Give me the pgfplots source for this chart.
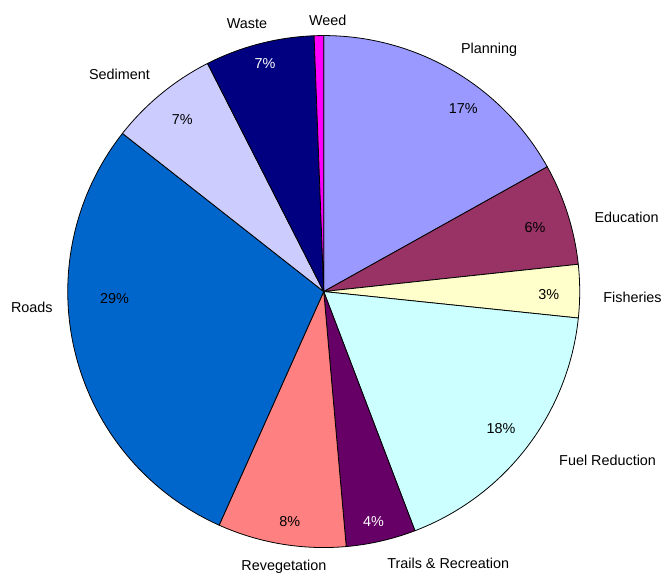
\documentclass[border=0pt]{standalone}
\usepackage{pgfplots}
\pgfplotsset{compat=1.18}
\usepackage{fontspec}
\setmainfont{Liberation Sans}
\definecolor{cPlan}{HTML}{9999FF}
\definecolor{cEdu}{HTML}{993366}
\definecolor{cFish}{HTML}{FFFFCC}
\definecolor{cFuel}{HTML}{CCFFFF}
\definecolor{cTrail}{HTML}{660066}
\definecolor{cReveg}{HTML}{FF8080}
\definecolor{cRoad}{HTML}{0066CC}
\definecolor{cSed}{HTML}{CCCCFF}
\definecolor{cWaste}{HTML}{000080}
\definecolor{cWeed}{HTML}{FF00FF}
% centre (325,283.3), radius 257 in pixel units; wedge domains in cumulative percent
\newcommand{\pieslice}[3]{%
  \addplot[fill=#1, draw=black, line width=0.8pt, domain=#2:#3, samples=80, variable=\t]
    ({325+257*sin(3.6*\t)}, {283.3+257*cos(3.6*\t)}) -- (axis cs:325,283.3) -- cycle;}
\begin{document}
\begin{tikzpicture}
\begin{axis}[
  width=665bp, height=576bp, scale only axis,
  xmin=0, xmax=665, ymin=0, ymax=576,
  hide axis, clip=false,
  font=\fontsize{14.5}{17}\selectfont,
]
\draw[draw=none] (axis cs:0,0) rectangle (axis cs:665,576);
\pieslice{cPlan}{0}{16.9}
\pieslice{cEdu}{16.9}{23.3}
\pieslice{cFish}{23.3}{26.65}
\pieslice{cFuel}{26.65}{44.2}
\pieslice{cTrail}{44.2}{48.6}
\pieslice{cReveg}{48.6}{56.7}
\pieslice{cRoad}{56.7}{85.6}
\pieslice{cSed}{85.6}{92.5}
\pieslice{cWaste}{92.5}{99.4}
\pieslice{cWeed}{99.4}{100}
% category labels
\node at (axis cs:329,556) {Weed};
\node at (axis cs:248,552) {Waste};
\node at (axis cs:120,501) {Sediment};
\node at (axis cs:491,526) {Planning};
\node at (axis cs:629,358) {Education};
\node at (axis cs:635,277) {Fisheries};
\node at (axis cs:610,114) {Fuel Reduction};
\node at (axis cs:450,10) {Trails \& Recreation};
\node at (axis cs:285,7) {Revegetation};
\node at (axis cs:32,267) {Roads};
% percentages
\node at (axis cs:465,467) {17\%};
\node at (axis cs:537,348) {6\%};
\node at (axis cs:551,280) {3\%};
\node at (axis cs:503,146) {18\%};
\node[text=white] at (axis cs:375,52) {4\%};
\node at (axis cs:291,52) {8\%};
\node at (axis cs:115,276) {29\%};
\node at (axis cs:183,456) {7\%};
\node[text=white] at (axis cs:266,512) {7\%};
\end{axis}
\end{tikzpicture}
\end{document}
